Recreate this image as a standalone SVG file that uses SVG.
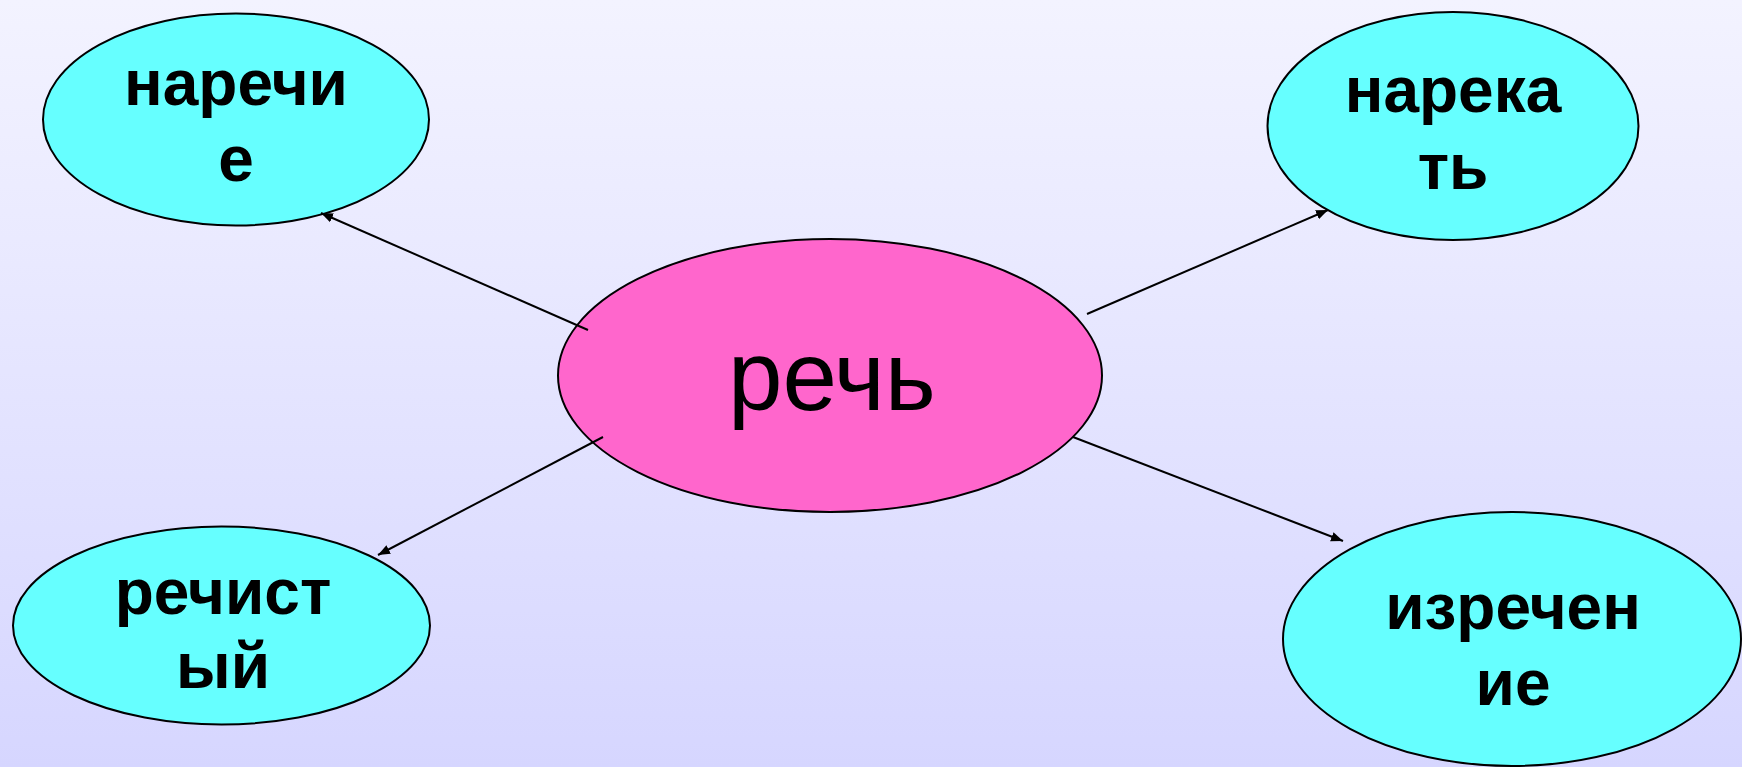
<svg xmlns="http://www.w3.org/2000/svg" width="1742" height="767" viewBox="0 0 1742 767">
<defs>
<linearGradient id="bg" x1="0" y1="0" x2="0" y2="1">
<stop offset="0" stop-color="#F3F3FF"/>
<stop offset="1" stop-color="#D6D6FF"/>
</linearGradient>
<marker id="arr" viewBox="0 0 10 10" refX="10" refY="5" markerWidth="6" markerHeight="6" markerUnits="strokeWidth" orient="auto">
<path d="M0,1 L10,5 L0,9 z" fill="#000"/>
</marker>
<style>
.leaf{fill:#66FFFF;stroke:#000;stroke-width:2}
.hub{fill:#FF66CC;stroke:#000;stroke-width:2}
.lt{font-family:"Liberation Sans",Arial,sans-serif;font-weight:bold;font-size:64px;fill:#000;text-anchor:middle}
.ht{font-family:"Liberation Sans",Arial,sans-serif;font-size:98px;fill:#000;text-anchor:middle}
.con{stroke:#000;stroke-width:2;fill:none;marker-end:url(#arr)}
</style>
</defs>
<rect width="1742" height="767" fill="url(#bg)"/>
<g id="n-center">
<ellipse class="hub" cx="830" cy="375.5" rx="272" ry="136.5"/>
<text class="ht" x="832" y="410">речь</text>
</g>
<g id="n-narechie">
<ellipse class="leaf" cx="236" cy="119.5" rx="193" ry="106"/>
<text class="lt" x="236" y="105">наречи</text>
<text class="lt" x="236" y="181">е</text>
</g>
<g id="n-narekat">
<ellipse class="leaf" cx="1453" cy="126" rx="185.5" ry="114"/>
<text class="lt" x="1453" y="112">нарека</text>
<text class="lt" x="1453" y="189">ть</text>
</g>
<g id="n-rechisty">
<ellipse class="leaf" cx="221.5" cy="625.5" rx="208.5" ry="99"/>
<text class="lt" x="223" y="614">речист</text>
<text class="lt" x="223" y="688">ый</text>
</g>
<g id="n-izrechenie">
<ellipse class="leaf" cx="1512" cy="639" rx="229" ry="127"/>
<text class="lt" x="1513" y="629">изречен</text>
<text class="lt" x="1513" y="705">ие</text>
</g>
<g id="connectors">
<line class="con" x1="588" y1="330" x2="321" y2="213"/>
<line class="con" x1="1087" y1="314" x2="1328" y2="210"/>
<line class="con" x1="603" y1="437" x2="378" y2="555"/>
<line class="con" x1="1073" y1="437" x2="1343" y2="541"/>
</g>
</svg>
